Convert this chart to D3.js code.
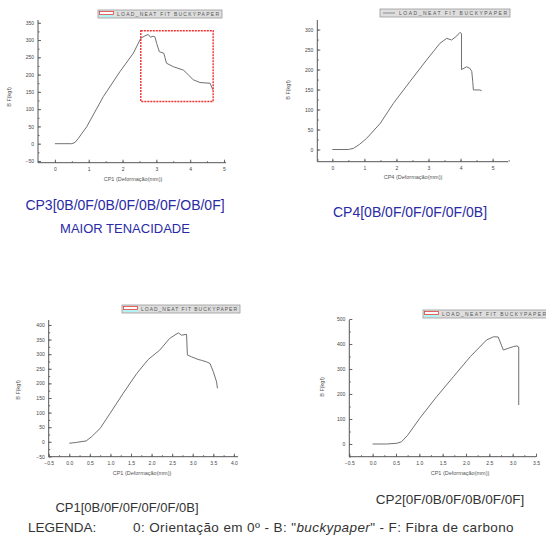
<!DOCTYPE html>
<html>
<head>
<meta charset="utf-8">
<script src="https://cdn.jsdelivr.net/npm/d3@7"></script>
<style>
  body { margin: 0; background: #fff; }
  svg { display: block; font-family: "Liberation Sans", Arial, sans-serif; }
</style>
</head>
<body>
<svg id="chart" width="546" height="542"></svg>
<script>
// ---- data (x: deformação mm, y: força kgf) ----
const cp3X = [0, 0.3, 0.5, 0.6, 0.69, 0.8, 0.94, 1.43, 1.92, 2.32, 2.54, 2.66, 2.76, 2.83, 2.9, 2.96, 3.01, 3.09, 3.22, 3.3, 3.5, 3.8, 3.9, 4.09, 4.29, 4.59, 4.67];
const cp3Y = [0, 0, 0, 4, 15, 30, 49, 136, 208, 262, 305, 312, 316, 308, 311, 309, 290, 266, 262, 233, 223, 213, 204, 185, 177, 175, 156];

const cp4X = [0, 0.3, 0.5, 0.66, 0.85, 1.07, 1.49, 1.9, 2.42, 2.94, 3.36, 3.57, 3.72, 3.88, 3.98, 4.03, 4.03, 4.19, 4.29, 4.35, 4.38, 4.4, 4.6, 4.66];
const cp4Y = [0, 0, 0, 3, 13, 28, 65, 115, 170, 224, 266, 278, 274, 284, 293, 290, 200, 207, 203, 195, 170, 149, 149, 147];

const cp1X = [0, 0.18, 0.41, 0.54, 0.75, 0.99, 1.31, 1.64, 1.92, 2.2, 2.44, 2.65, 2.73, 2.85, 2.87, 2.97, 3.13, 3.21, 3.33, 3.42, 3.5, 3.58, 3.6];
const cp1Y = [-5, -2, 3, 17, 46, 97, 166, 234, 282, 314, 354, 373, 365, 368, 297, 291, 282, 279, 274, 268, 240, 205, 183];

const cp2X = [0, 0.3, 0.52, 0.62, 0.75, 1.01, 1.37, 1.73, 2.09, 2.44, 2.59, 2.69, 2.8, 2.91, 3.02, 3.09, 3.13, 3.13];
const cp2Y = [0, 0, 3, 9, 35, 103, 189, 269, 349, 416, 429, 428, 376, 383, 390, 392, 388, 156];

// highlighted region on CP3 [x0, x1, y0, y1]
const cp3Box = [2.54, 4.68, 122, 327];

const cp3YTicks = [-50, 0, 50, 100, 150, 200, 250, 300, 350];
const cp4YTicks = [0, 50, 100, 150, 200, 250, 300];
const cp1YTicks = [-50, 0, 50, 100, 150, 200, 250, 300, 350, 400];
const cp2YTicks = [0, 100, 200, 300, 400, 500];
const intXTicks = [0, 1, 2, 3, 4, 5];
const halfXTicks = [-0.5, 0, 0.5, 1, 1.5, 2, 2.5, 3, 3.5, 4];
const halfXTicks2 = [-0.5, 0, 0.5, 1, 1.5, 2, 2.5, 3, 3.5];

const legendText = "LOAD_NEAT FIT BUCKYPAPER";
const yTitle = "B F(kgf)";

const svg = d3.select("#chart");

function drawPanel(p) {
  const x = d3.scaleLinear().domain(p.xDomain).range(p.xRange);
  const y = d3.scaleLinear().domain(p.yDomain).range(p.yRange);
  const g = svg.append("g");

  // minor ticks
  g.append("g")
    .attr("transform", "translate(" + p.xRange[0] + ",0)")
    .call(d3.axisLeft(y).tickValues(p.yMinor).tickSize(-1.5).tickFormat(""))
    .call(a => a.select(".domain").remove());
  g.append("g")
    .attr("transform", "translate(0," + p.yRange[0] + ")")
    .call(d3.axisBottom(x).tickValues(p.xMinor).tickSize(-1.5).tickFormat(""))
    .call(a => a.select(".domain").remove());

  // major ticks + labels
  g.append("g")
    .attr("transform", "translate(" + p.xRange[0] + ",0)")
    .call(d3.axisLeft(y).tickValues(p.yTicks).tickSize(-3).tickPadding(4).tickFormat(d3.format("d")))
    .call(a => a.select(".domain").remove());
  g.append("g")
    .attr("transform", "translate(0," + p.yRange[0] + ")")
    .call(d3.axisBottom(x).tickValues(p.xTicks).tickSize(-3).tickPadding(5).tickFormat(p.xFormat))
    .call(a => a.select(".domain").remove());

  g.selectAll(".tick line").attr("stroke", "#666");
  g.selectAll(".tick text").attr("font-size", 5).attr("fill", "#444");

  // axis lines
  g.append("line")
    .attr("x1", p.xRange[0]).attr("x2", p.xRange[0])
    .attr("y1", p.yRange[0]).attr("y2", p.yRange[1])
    .attr("stroke", "#555").attr("stroke-width", 1);
  g.append("line")
    .attr("x1", p.xRange[0]).attr("x2", p.xRange[1])
    .attr("y1", p.yRange[0]).attr("y2", p.yRange[0])
    .attr("stroke", "#555").attr("stroke-width", 1);

  // curve
  const pts = p.xs.map((v, i) => [v, p.ys[i]]);
  g.append("path")
    .datum(pts)
    .attr("fill", "none")
    .attr("stroke", "#707070")
    .attr("stroke-width", 1)
    .attr("stroke-linejoin", "round")
    .attr("d", d3.line().x(d => x(d[0])).y(d => y(d[1])));

  // axis titles
  g.append("text")
    .attr("transform", "translate(" + p.yTitlePos[0] + "," + p.yTitlePos[1] + ") rotate(-90)")
    .attr("text-anchor", "middle")
    .attr("font-size", 5.5)
    .attr("fill", "#555")
    .text(yTitle);
  g.append("text")
    .attr("x", p.xTitlePos[0]).attr("y", p.xTitlePos[1])
    .attr("text-anchor", "middle")
    .attr("font-size", 5.5)
    .attr("fill", "#555")
    .text(p.xTitle);

  // legend box
  const lg = g.append("g").attr("transform", "translate(" + p.legend[0] + "," + p.legend[1] + ")");
  lg.append("rect")
    .attr("width", p.legend[2]).attr("height", 8)
    .attr("fill", "#dedede").attr("stroke", "#999").attr("stroke-width", 0.8);
  if (p.redKey) {
    lg.append("rect").attr("x", 1.5).attr("y", 1.5).attr("width", 14).attr("height", 3)
      .attr("fill", "#fff").attr("stroke", "#e04040").attr("stroke-width", 0.8);
    lg.append("rect").attr("x", 1.5).attr("y", 5).attr("width", 14).attr("height", 2)
      .attr("fill", "#aef4f4");
  } else {
    lg.append("line").attr("x1", 3).attr("x2", 15).attr("y1", 4).attr("y2", 4)
      .attr("stroke", "#777").attr("stroke-width", 0.8);
  }
  lg.append("text")
    .attr("x", 19).attr("y", 6)
    .attr("font-size", 5)
    .attr("fill", "#555")
    .attr("textLength", p.legend[2] - 22)
    .text(legendText);

  return { x: x, y: y, g: g };
}

// CP3 (top left)
const pCp3 = drawPanel({
  xs: cp3X, ys: cp3Y,
  xDomain: [-0.5, 5.06], xRange: [38, 226],
  yDomain: [-55, 358], yRange: [162.7, 20],
  xTicks: intXTicks, xMinor: d3.range(-0.5, 5.01, 0.5),
  yTicks: cp3YTicks, yMinor: d3.range(-50, 351, 25),
  xFormat: d3.format("d"),
  yTitlePos: [11, 97], xTitlePos: [133, 181],
  xTitle: "CP1 (Deformação(mm))",
  legend: [98, 10, 124], redKey: true
});

pCp3.g.append("rect")
  .attr("x", pCp3.x(cp3Box[0]))
  .attr("y", pCp3.y(cp3Box[3]))
  .attr("width", pCp3.x(cp3Box[1]) - pCp3.x(cp3Box[0]))
  .attr("height", pCp3.y(cp3Box[2]) - pCp3.y(cp3Box[3]))
  .attr("fill", "none")
  .attr("stroke", "#f03030")
  .attr("stroke-width", 1.4)
  .attr("stroke-dasharray", "2,1");

// CP4 (top right)
drawPanel({
  xs: cp4X, ys: cp4Y,
  xDomain: [-0.47, 5.48], xRange: [317.3, 508],
  yDomain: [-30.5, 324], yRange: [161.7, 20],
  xTicks: intXTicks, xMinor: d3.range(-0.5, 5.51, 0.5).filter(v => v >= -0.47),
  yTicks: cp4YTicks, yMinor: d3.range(-25, 321, 25),
  xFormat: d3.format("d"),
  yTitlePos: [290, 90], xTitlePos: [413, 179],
  xTitle: "CP4 (Deformação(mm))",
  legend: [380, 9, 130], redKey: false
});

// CP1 (bottom left)
drawPanel({
  xs: cp1X, ys: cp1Y,
  xDomain: [-0.5, 4.1], xRange: [48.7, 238],
  yDomain: [-51, 417], yRange: [456.7, 320],
  xTicks: halfXTicks, xMinor: d3.range(-0.5, 4.01, 0.25),
  yTicks: cp1YTicks, yMinor: d3.range(-50, 401, 25),
  xFormat: d3.format(".1f"),
  yTitlePos: [20, 390], xTitlePos: [142, 475],
  xTitle: "CP1 (Deformação(mm))",
  legend: [122, 305, 118], redKey: true
});

// CP2 (bottom right)
drawPanel({
  xs: cp2X, ys: cp2Y,
  xDomain: [-0.5, 3.5], xRange: [349.3, 536],
  yDomain: [-50.8, 496], yRange: [456.7, 320],
  xTicks: halfXTicks2, xMinor: d3.range(-0.5, 3.51, 0.25),
  yTicks: cp2YTicks, yMinor: d3.range(-50, 496, 50),
  xFormat: d3.format(".1f"),
  yTitlePos: [324, 387], xTitlePos: [460, 475],
  xTitle: "CP1 (Deformação(mm))",
  legend: [423, 310, 126], redKey: true
});

// captions
const blue = "#2a2aa6";
function caption(txt, cx, cy, size, color) {
  svg.append("text")
    .attr("x", cx).attr("y", cy)
    .attr("text-anchor", "middle")
    .attr("dominant-baseline", "middle")
    .attr("font-size", size)
    .attr("fill", color)
    .text(txt);
}
caption("CP3[0B/0F/0B/0F/0B/0F/OB/0F]", 125, 206, 14, blue);
caption("MAIOR TENACIDADE", 125, 230, 13, blue);
caption("CP4[0B/0F/0F/0F/0F/0B]", 410, 213, 14, blue);
caption("CP1[0B/0F/0F/0F/0F/0B]", 127, 509, 13, "#333");
caption("CP2[0F/0B/0F/0B/0F/0F]", 450, 500, 13.5, "#333");

const leg = svg.append("text")
  .attr("y", 528)
  .attr("dominant-baseline", "middle")
  .attr("font-size", 13.5)
  .attr("fill", "#333");
leg.append("tspan").attr("x", 28).text("LEGENDA:");
leg.append("tspan").attr("x", 133).attr("letter-spacing", 0.4).text("0: Orientação em 0º - B: \"");
leg.append("tspan").attr("font-style", "italic").attr("letter-spacing", 0.4).text("buckypaper");
leg.append("tspan").attr("letter-spacing", 0.4).text("\" - F: Fibra de carbono");
</script>
</body>
</html>
